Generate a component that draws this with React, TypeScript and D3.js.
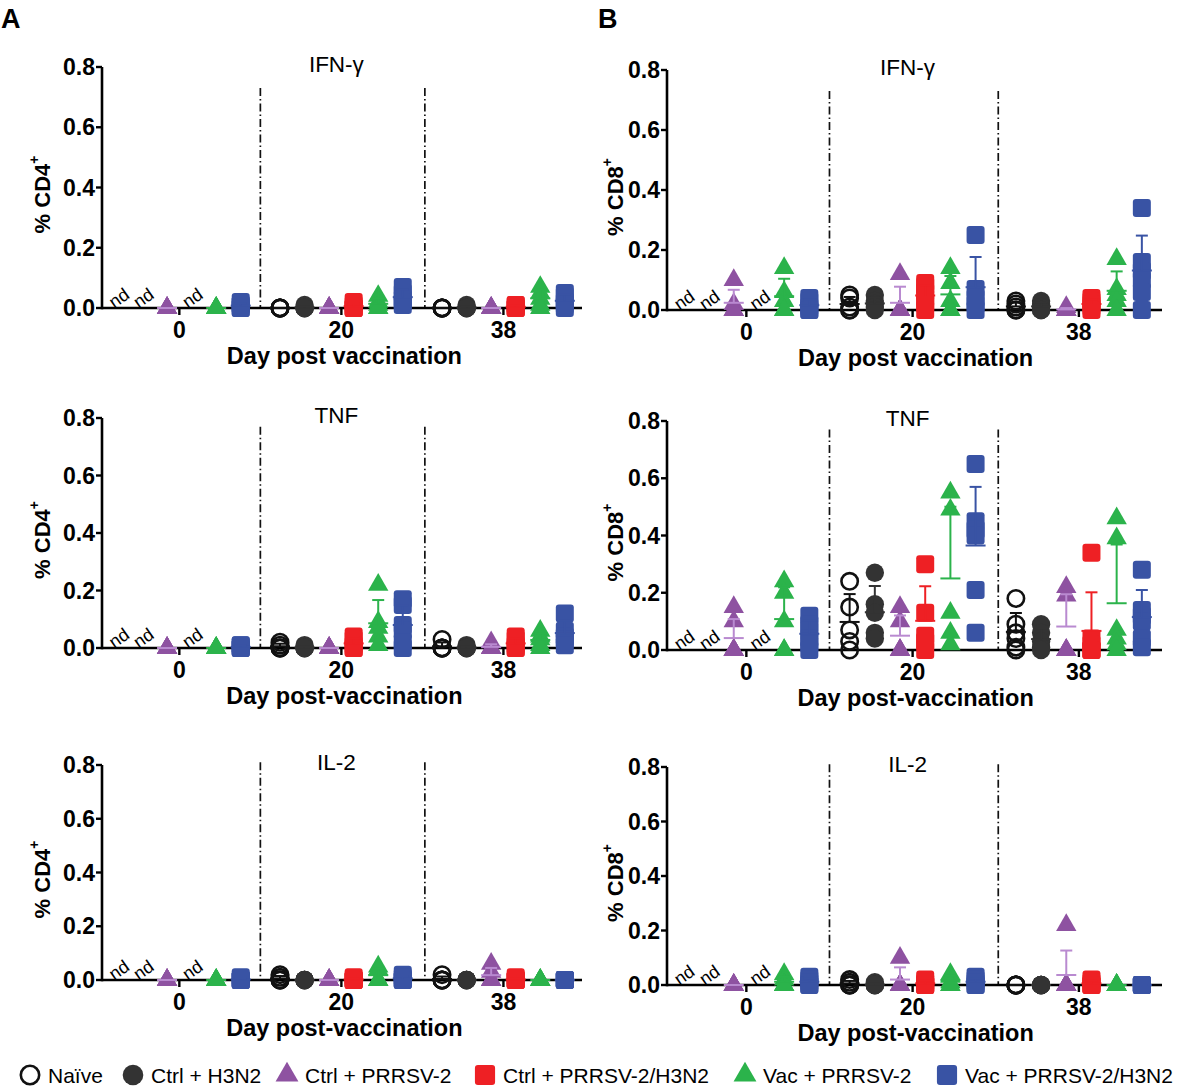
import * as d3 from 'd3';
import React from 'react';

// groups, in plotting order inside each day block
const groups = ["Naïve", "Ctrl + H3N2", "Ctrl + PRRSV-2", "Ctrl + PRRSV-2/H3N2", "Vac + PRRSV-2", "Vac + PRRSV-2/H3N2"];
const groupColors = ["#111111", "#333333", "#8e52a1", "#ee2024", "#2bb34b", "#3953a4"];
const errorColors = ["#111111", "#333333", "#b98ad0", "#ee2024", "#2bb34b", "#3953a4"];
const groupShapes = ["open", "circle", "triangle", "square", "triangle", "square"];
const days = ["0", "20", "38"];
const yTicks = [0, 0.2, 0.4, 0.6, 0.8];

type Cell = number[] | null; // null = not detected ("nd")

// % CD4+ — rows are days 0 / 20 / 38, columns follow `groups`
const cd4IFNg: Cell[][] = [
  [null, null, [0, 0, 0, 0, 0], null, [0, 0, 0, 0, 0], [0.02, 0.01, 0.01, 0, 0]],
  [[0, 0, 0, 0, 0], [0.01, 0, 0, 0, 0], [0, 0, 0, 0, 0], [0.02, 0.01, 0, 0, 0], [0.04, 0.02, 0.01, 0, 0], [0.07, 0.05, 0.03, 0.02, 0.01]],
  [[0, 0, 0, 0, 0], [0.01, 0, 0, 0, 0], [0, 0, 0, 0, 0], [0.01, 0.01, 0, 0, 0], [0.07, 0.05, 0.03, 0.01, 0], [0.05, 0.04, 0.02, 0.01, 0]],
];
const cd4TNF: Cell[][] = [
  [null, null, [0, 0, 0, 0, 0], null, [0, 0, 0, 0, 0], [0.01, 0.01, 0, 0, 0]],
  [[0.02, 0.01, 0, 0, 0], [0.01, 0, 0, 0, 0], [0, 0, 0, 0, 0], [0.04, 0.03, 0.01, 0, 0], [0.22, 0.09, 0.07, 0.04, 0.01], [0.17, 0.15, 0.08, 0.06, 0.02, 0]],
  [[0.03, 0, 0, 0, 0], [0.01, 0, 0, 0, 0], [0.02, 0, 0, 0, 0], [0.04, 0.03, 0.01, 0, 0], [0.06, 0.04, 0.03, 0.01, 0], [0.12, 0.06, 0.04, 0.03, 0.01]],
];
const cd4IL2: Cell[][] = [
  [null, null, [0, 0, 0, 0, 0], null, [0, 0, 0, 0, 0], [0.01, 0, 0, 0, 0]],
  [[0.02, 0.01, 0, 0, 0], [0, 0, 0, 0, 0], [0, 0, 0, 0, 0], [0.01, 0, 0, 0, 0], [0.05, 0.04, 0, 0, 0], [0.02, 0.01, 0, 0, 0]],
  [[0.02, 0, 0, 0, 0], [0, 0, 0, 0, 0], [0.06, 0.03, 0, 0, 0], [0.01, 0, 0, 0, 0], [0, 0, 0, 0, 0], [0, 0, 0, 0, 0]],
];

// % CD8+
const cd8IFNg: Cell[][] = [
  [null, null, [0.1, 0.02, 0, 0, 0], null, [0.14, 0.06, 0.03, 0, 0], [0.04, 0.03, 0.01, 0, 0]],
  [[0.05, 0.04, 0.01, 0, 0], [0.05, 0.03, 0.02, 0.01, 0], [0.12, 0, 0, 0, 0], [0.09, 0.08, 0.06, 0.04, 0.02, 0], [0.14, 0.09, 0.03, 0, 0], [0.25, 0.07, 0.04, 0.02, 0]],
  [[0.03, 0.02, 0.01, 0, 0], [0.03, 0.02, 0.01, 0, 0], [0.01, 0, 0, 0, 0], [0.04, 0.03, 0.02, 0.01, 0], [0.17, 0.07, 0.05, 0.03, 0], [0.34, 0.16, 0.13, 0.1, 0.06, 0]],
];
const cd8TNF: Cell[][] = [
  [null, null, [0.15, 0.1, 0, 0, 0, 0], null, [0.24, 0.2, 0.1, 0, 0], [0.12, 0.09, 0.07, 0.04, 0.02, 0]],
  [[0.24, 0.15, 0.07, 0.03, 0], [0.27, 0.16, 0.13, 0.06, 0.04], [0.15, 0.1, 0, 0, 0], [0.3, 0.13, 0.05, 0.03, 0], [0.55, 0.49, 0.13, 0.06, 0.02], [0.65, 0.45, 0.42, 0.4, 0.21, 0.06]],
  [[0.18, 0.09, 0.06, 0.04, 0.01, 0], [0.09, 0.06, 0.03, 0.01, 0], [0.22, 0.19, 0, 0, 0], [0.34, 0.04, 0.02, 0, 0, 0], [0.46, 0.39, 0.07, 0.04, 0.02, 0], [0.28, 0.14, 0.12, 0.1, 0.04, 0.01]],
];
const cd8IL2: Cell[][] = [
  [null, null, [0, 0, 0, 0, 0], null, [0.04, 0.02, 0, 0, 0], [0.03, 0.02, 0.01, 0, 0]],
  [[0.02, 0.01, 0, 0, 0], [0.01, 0, 0, 0, 0], [0.1, 0, 0, 0, 0], [0.02, 0.01, 0, 0, 0], [0.04, 0.03, 0.01, 0, 0], [0.03, 0.02, 0.01, 0, 0]],
  [[0, 0, 0, 0, 0], [0, 0, 0, 0, 0], [0.22, 0, 0, 0, 0, 0], [0.02, 0.01, 0, 0, 0], [0, 0, 0, 0, 0], [0, 0, 0, 0, 0]],
];

const FONT = "'Liberation Sans', Arial, sans-serif";

const DAY_STEP = 6.6; // slot units between the first group of consecutive days
const dividerSlots = [5.8, 12.5];

const columns = [
  { key: "A", cell: "CD4", x0: 102, x1: 582, domain: [-0.65, 18.9], labelX: 42, letterX: 1 },
  { key: "B", cell: "CD8", x0: 667, x1: 1162, domain: [-0.65, 19.0], labelX: 615, letterX: 598 },
];

const rows = [
  { title: "IFN-γ", xLabel: "Day post vaccination", y: { A: [308, 67], B: [310, 70] }, dividerTop: 0.73, data: { A: cd4IFNg, B: cd8IFNg } },
  { title: "TNF", xLabel: "Day post-vaccination", y: { A: [648, 418], B: [650, 421] }, dividerTop: 0.77, data: { A: cd4TNF, B: cd8TNF } },
  { title: "IL-2", xLabel: "Day post-vaccination", y: { A: [980, 765], B: [985, 767] }, dividerTop: 0.81, data: { A: cd4IL2, B: cd8IL2 } },
];

const trianglePath = (size: number) => d3.symbol(d3.symbolTriangle, size)() as string;

const Marker = ({ shape, color, cx, cy, big = false }: { shape: string; color: string; cx: number; cy: number; big?: boolean }) => {
  const k = big ? 1.12 : 1;
  if (shape === "open") {
    return <circle cx={cx} cy={cy} r={8.2 * k} fill="none" stroke={color} strokeWidth={2.6} />;
  }
  if (shape === "circle") {
    return <circle cx={cx} cy={cy} r={9.2 * k} fill={color} />;
  }
  if (shape === "triangle") {
    return <path d={trianglePath(180 * k * k)} transform={`translate(${cx},${cy})`} fill={color} />;
  }
  const s = 18 * k;
  return <rect x={cx - s / 2} y={cy - s / 2} width={s} height={s} rx={3} fill={color} />;
};

const Panel = ({ col, row }: { col: typeof columns[number]; row: typeof rows[number] }) => {
  const key = col.key as "A" | "B";
  const data = row.data[key];
  const [yBottom, yTop] = row.y[key];
  const x = d3.scaleLinear().domain(col.domain).range([col.x0, col.x1]);
  const y = d3.scaleLinear().domain([0, 0.8]).range([yBottom, yTop]);
  const slot = (d: number, g: number) => x(d * DAY_STEP + g);
  const dayCenter = (d: number) => x(d * DAY_STEP + 2.5);
  const fmt = d3.format(".1f");

  return (
    <g>
      {/* day separators */}
      {dividerSlots.map((s, i) => (
        <line key={i} x1={x(s)} x2={x(s)} y1={y(row.dividerTop)} y2={y(0)}
          stroke="#111" strokeWidth={1.7} strokeDasharray="8,3,1.5,3" />
      ))}

      {/* axes */}
      <line x1={col.x0} x2={col.x1} y1={y(0)} y2={y(0)} stroke="#000" strokeWidth={2.6} />
      <line x1={col.x0} x2={col.x0} y1={y(0) + 1.3} y2={y(0.8)} stroke="#000" strokeWidth={2.6} />
      {yTicks.map(t => (
        <g key={t}>
          <line x1={col.x0 - 6} x2={col.x0} y1={y(t)} y2={y(t)} stroke="#000" strokeWidth={2.4} />
          <text x={col.x0 - 7} y={y(t)} textAnchor="end" dominantBaseline="central"
            fontFamily={FONT} fontWeight="bold" fontSize={23}>{fmt(t)}</text>
        </g>
      ))}
      {days.map((d, i) => (
        <g key={d}>
          <line x1={dayCenter(i)} x2={dayCenter(i)} y1={y(0)} y2={y(0) + 7} stroke="#000" strokeWidth={2.4} />
          <text x={dayCenter(i)} y={y(0) + 22} textAnchor="middle" dominantBaseline="central"
            fontFamily={FONT} fontWeight="bold" fontSize={23}>{d}</text>
        </g>
      ))}
      <text x={dayCenter(1) + 3} y={y(0) + 48} textAnchor="middle" dominantBaseline="central"
        fontFamily={FONT} fontWeight="bold" fontSize={23.5}>{row.xLabel}</text>
      <text transform={`translate(${col.labelX},${(y(0) + y(0.8)) / 2 + 7}) rotate(-90)`}
        textAnchor="middle" dominantBaseline="central"
        fontFamily={FONT} fontWeight="bold" fontSize={22}>
        % {col.cell}<tspan fontSize={14} dy={-8}>+</tspan>
      </text>
      <text x={dayCenter(1) - 5} y={y(0.8) - 3} textAnchor="middle" dominantBaseline="central"
        fontFamily={FONT} fontSize={22.5}>{row.title}</text>

      {/* points */}
      {data.map((dayCells, d) => dayCells.map((vals, g) => {
        const cx = slot(d, g);
        if (vals === null) {
          return (
            <text key={`${d}-${g}`} transform={`translate(${cx + 1},${y(0) - 10}) rotate(-35)`}
              textAnchor="middle" dominantBaseline="central" fontFamily={FONT} fontSize={18}>nd</text>
          );
        }
        return (
          <g key={`${d}-${g}`}>
            {vals.map((v, i) => (
              <Marker key={i} shape={groupShapes[g]} color={groupColors[g]} cx={cx} cy={y(v)} />
            ))}
          </g>
        );
      }))}

      {/* mean + SD */}
      {data.map((dayCells, d) => dayCells.map((vals, g) => {
        if (vals === null) return null;
        const m = d3.mean(vals) ?? 0;
        const sd = d3.deviation(vals) ?? 0;
        const cx = slot(d, g);
        const c = errorColors[g];
        return (
          <g key={`e${d}-${g}`} stroke={c} strokeWidth={2}>
            <line x1={cx - 10} x2={cx + 10} y1={y(m)} y2={y(m)} />
            <line x1={cx} x2={cx} y1={y(m)} y2={y(m + sd)} />
            <line x1={cx - 6} x2={cx + 6} y1={y(m + sd)} y2={y(m + sd)} />
          </g>
        );
      }))}
    </g>
  );
};

// legend marker centres along the bottom line
const legendX = [30, 133, 287, 485, 745, 947];

const App = () => (
  <svg width={1181} height={1088} style={{ position: "absolute", left: 0, top: 0, background: "#fff" }}>
    {columns.map(col => (
      <text key={col.key} x={col.letterX} y={28} fontFamily={FONT} fontWeight="bold" fontSize={27}>{col.key}</text>
    ))}
    {rows.map((row, r) => columns.map(col => (
      <Panel key={`${r}-${col.key}`} col={col} row={row} />
    )))}
    {groups.map((name, g) => (
      <g key={name}>
        <Marker shape={groupShapes[g]} color={groupColors[g]} cx={legendX[g]} cy={1075} big />
        <text x={legendX[g] + 18} y={1075} dominantBaseline="central" fontFamily={FONT} fontSize={21}>{name}</text>
      </g>
    ))}
  </svg>
);

export default App;
